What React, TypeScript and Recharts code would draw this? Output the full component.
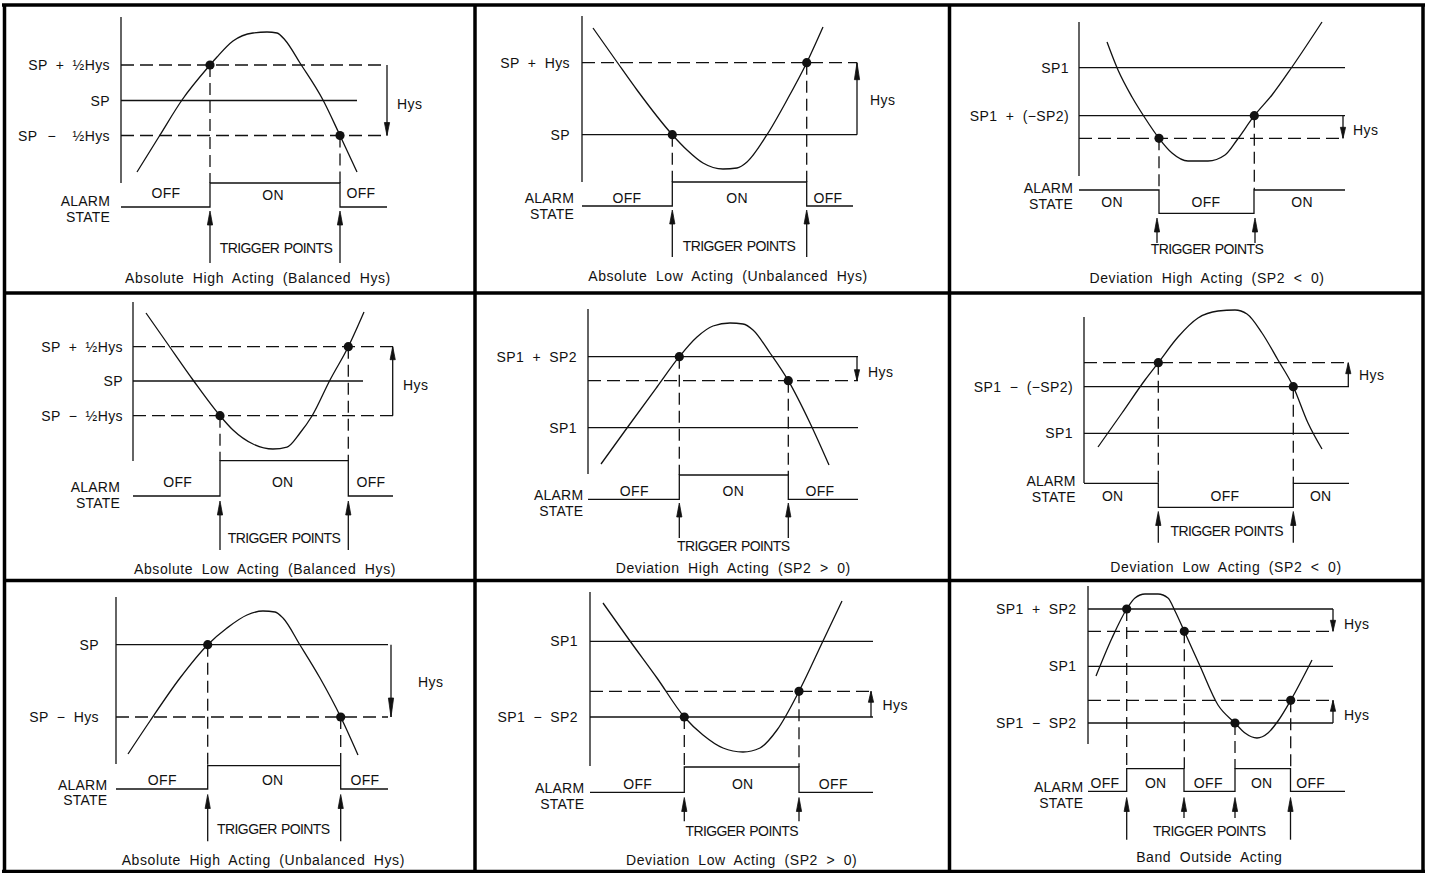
import { ComposedChart, XAxis, YAxis, Line, Scatter, ReferenceLine } from "recharts"

// chart units: x = time, y = process level (axis reversed, grid of the drawing sheet)
const W = 1429
const H = 873
const FONT = "'Liberation Sans', Arial, sans-serif"

// sheet frame and panel dividers
const frameLines = [
  { x1: 2, y1: 5, x2: 1425, y2: 5 },
  { x1: 2, y1: 871.5, x2: 1425, y2: 871.5 },
  { x1: 4.5, y1: 5, x2: 4.5, y2: 871.5 },
  { x1: 1423, y1: 5, x2: 1423, y2: 871.5 },
  { x1: 475, y1: 5, x2: 475, y2: 871.5 },
  { x1: 949.5, y1: 5, x2: 949.5, y2: 871.5 },
  { x1: 4, y1: 293, x2: 1423, y2: 293 },
  { x1: 4, y1: 580.5, x2: 1423, y2: 580.5 },
]

// vertical value axis of each panel
const axisLines = [
  { x: 121, y1: 17, y2: 183 },
  { x: 582, y1: 16, y2: 182 },
  { x: 1079, y1: 22, y2: 176 },
  { x: 133, y1: 302, y2: 461 },
  { x: 588, y1: 309, y2: 474 },
  { x: 1084, y1: 317, y2: 483 },
  { x: 116, y1: 597, y2: 764 },
  { x: 590, y1: 592, y2: 766 },
  { x: 1088, y1: 586, y2: 744 },
]

// setpoint levels (solid) and hysteresis levels (dashed)
const levelLines = [
  { x1: 121, x2: 387, y: 65, dashed: true },
  { x1: 121, x2: 357, y: 100.5, dashed: false },
  { x1: 121, x2: 387, y: 135.5, dashed: true },
  { x1: 582, x2: 857, y: 62.7, dashed: true },
  { x1: 582, x2: 857, y: 134.7, dashed: false },
  { x1: 1079, x2: 1345, y: 67.7, dashed: false },
  { x1: 1079, x2: 1345, y: 115.7, dashed: false },
  { x1: 1079, x2: 1345, y: 138.3, dashed: true },
  { x1: 133, x2: 393, y: 346.7, dashed: true },
  { x1: 133, x2: 363, y: 381, dashed: false },
  { x1: 133, x2: 393, y: 415.7, dashed: true },
  { x1: 588, x2: 858, y: 356.7, dashed: false },
  { x1: 588, x2: 858, y: 380.7, dashed: true },
  { x1: 588, x2: 858, y: 427.7, dashed: false },
  { x1: 1084, x2: 1349, y: 362.7, dashed: true },
  { x1: 1084, x2: 1349, y: 386.7, dashed: false },
  { x1: 1084, x2: 1349, y: 433.3, dashed: false },
  { x1: 116, x2: 388, y: 644.7, dashed: false },
  { x1: 116, x2: 388, y: 717, dashed: true },
  { x1: 590, x2: 873, y: 641.3, dashed: false },
  { x1: 590, x2: 873, y: 691.3, dashed: true },
  { x1: 590, x2: 873, y: 717, dashed: false },
  { x1: 1088, x2: 1333, y: 609, dashed: false },
  { x1: 1088, x2: 1333, y: 631.3, dashed: true },
  { x1: 1088, x2: 1333, y: 666.3, dashed: false },
  { x1: 1088, x2: 1333, y: 700.3, dashed: true },
  { x1: 1088, x2: 1333, y: 723, dashed: false },
]

// process value curves
const curveAbsHighBal = [
  { x: 137, y: 172 }, { x: 160, y: 135 }, { x: 182, y: 100 }, { x: 210, y: 65 }, { x: 217, y: 57 },
  { x: 233, y: 41 }, { x: 253, y: 33 }, { x: 267, y: 32 }, { x: 277, y: 33 }, { x: 285, y: 40 },
  { x: 300, y: 63 }, { x: 323, y: 100 }, { x: 340, y: 135.5 }, { x: 357, y: 172 },
]
const curveAbsLowUnbal = [
  { x: 593, y: 28 }, { x: 617, y: 62 }, { x: 637, y: 90 }, { x: 672.3, y: 134.7 }, { x: 687, y: 150 },
  { x: 703, y: 163 }, { x: 723, y: 169 }, { x: 737, y: 168 }, { x: 747, y: 162 }, { x: 767, y: 134.7 },
  { x: 787, y: 100 }, { x: 806.7, y: 62.7 }, { x: 823, y: 27 },
]
const curveDevHighNeg = [
  { x: 1107, y: 42 }, { x: 1118, y: 70 }, { x: 1132, y: 97 }, { x: 1145, y: 118 }, { x: 1159, y: 138.3 },
  { x: 1172, y: 153 }, { x: 1188, y: 161 }, { x: 1208, y: 161 }, { x: 1225, y: 155 }, { x: 1237, y: 140 },
  { x: 1254.3, y: 115.7 }, { x: 1272, y: 95 }, { x: 1292, y: 67 }, { x: 1322, y: 22 },
]
const curveAbsLowBal = [
  { x: 146, y: 313 }, { x: 167, y: 343 }, { x: 193, y: 380 }, { x: 220, y: 415.7 }, { x: 233, y: 430 },
  { x: 253, y: 444 }, { x: 273, y: 449 }, { x: 287, y: 447 }, { x: 300, y: 433 }, { x: 312, y: 416 },
  { x: 330, y: 380 }, { x: 348.3, y: 346.7 }, { x: 364, y: 312 },
]
const curveDevHighPos = [
  { x: 601, y: 464 }, { x: 627, y: 428 }, { x: 657, y: 387 }, { x: 679.3, y: 356.7 }, { x: 697, y: 337 },
  { x: 713, y: 326 }, { x: 730, y: 323 }, { x: 743, y: 324 }, { x: 753, y: 330 }, { x: 770, y: 353 },
  { x: 788.3, y: 380.7 }, { x: 810, y: 423 }, { x: 829, y: 465 },
]
const curveDevLowNeg = [
  { x: 1098, y: 447 }, { x: 1122, y: 413 }, { x: 1145, y: 380 }, { x: 1158.3, y: 362.7 }, { x: 1178, y: 337 },
  { x: 1198, y: 318 }, { x: 1218, y: 311 }, { x: 1235, y: 310 }, { x: 1247, y: 314 }, { x: 1262, y: 333 },
  { x: 1278, y: 360 }, { x: 1293.3, y: 386.7 }, { x: 1308, y: 423 }, { x: 1322, y: 449 },
]
const curveAbsHighUnbal = [
  { x: 128, y: 754 }, { x: 150, y: 721 }, { x: 180, y: 678 }, { x: 207.7, y: 644.7 }, { x: 227, y: 628 },
  { x: 247, y: 615 }, { x: 263, y: 611 }, { x: 275, y: 612 }, { x: 283, y: 618 }, { x: 300, y: 645 },
  { x: 320, y: 678 }, { x: 340.7, y: 717 }, { x: 358, y: 755 },
]
const curveDevLowPos = [
  { x: 603, y: 603 }, { x: 630, y: 641 }, { x: 657, y: 678 }, { x: 684.3, y: 717 }, { x: 703, y: 735 },
  { x: 723, y: 748 }, { x: 743, y: 752 }, { x: 760, y: 748 }, { x: 777, y: 730 }, { x: 799, y: 691.3 },
  { x: 823, y: 641 }, { x: 842, y: 601 },
]
const curveBandOutside = [
  { x: 1096, y: 676 }, { x: 1112, y: 638 }, { x: 1126.7, y: 609 }, { x: 1135, y: 598 }, { x: 1145, y: 594 },
  { x: 1158, y: 594 }, { x: 1168, y: 598 }, { x: 1175, y: 611 }, { x: 1184.3, y: 631.3 }, { x: 1200, y: 666 },
  { x: 1218, y: 705 }, { x: 1235, y: 723 }, { x: 1245, y: 733 }, { x: 1257, y: 738 }, { x: 1268, y: 733 },
  { x: 1278, y: 721 }, { x: 1290.7, y: 700.3 }, { x: 1312, y: 660 },
]
const curves = [
  curveAbsHighBal, curveAbsLowUnbal, curveDevHighNeg, curveAbsLowBal, curveDevHighPos,
  curveDevLowNeg, curveAbsHighUnbal, curveDevLowPos, curveBandOutside,
]

// alarm output state traces
const alarmAbsHighBal = [
  { x: 121, y: 207 }, { x: 210, y: 207 }, { x: 210, y: 183 }, { x: 340, y: 183 }, { x: 340, y: 207 }, { x: 387, y: 207 },
]
const alarmAbsLowUnbal = [
  { x: 582, y: 206 }, { x: 672.3, y: 206 }, { x: 672.3, y: 182 }, { x: 806.7, y: 182 }, { x: 806.7, y: 206 }, { x: 853, y: 206 },
]
const alarmDevHighNeg = [
  { x: 1079, y: 190 }, { x: 1159, y: 190 }, { x: 1159, y: 213.3 }, { x: 1254, y: 213.3 }, { x: 1254, y: 190 }, { x: 1345, y: 190 },
]
const alarmAbsLowBal = [
  { x: 133, y: 496 }, { x: 220, y: 496 }, { x: 220, y: 460.7 }, { x: 348.3, y: 460.7 }, { x: 348.3, y: 496 }, { x: 393, y: 496 },
]
const alarmDevHighPos = [
  { x: 588, y: 499.3 }, { x: 679.3, y: 499.3 }, { x: 679.3, y: 475 }, { x: 788.3, y: 475 }, { x: 788.3, y: 499.3 }, { x: 858, y: 499.3 },
]
const alarmDevLowNeg = [
  { x: 1084, y: 483.3 }, { x: 1158.3, y: 483.3 }, { x: 1158.3, y: 507.3 }, { x: 1293.3, y: 507.3 }, { x: 1293.3, y: 483.3 }, { x: 1349, y: 483.3 },
]
const alarmAbsHighUnbal = [
  { x: 116, y: 789 }, { x: 207.7, y: 789 }, { x: 207.7, y: 765.7 }, { x: 340.7, y: 765.7 }, { x: 340.7, y: 789 }, { x: 388, y: 789 },
]
const alarmDevLowPos = [
  { x: 590, y: 792.3 }, { x: 684.3, y: 792.3 }, { x: 684.3, y: 767 }, { x: 799, y: 767 }, { x: 799, y: 792.3 }, { x: 873, y: 792.3 },
]
const alarmBandOutside = [
  { x: 1088, y: 791.3 }, { x: 1126.7, y: 791.3 }, { x: 1126.7, y: 768.7 }, { x: 1184, y: 768.7 }, { x: 1184, y: 791.3 },
  { x: 1235, y: 791.3 }, { x: 1235, y: 768.7 }, { x: 1290.5, y: 768.7 }, { x: 1290.5, y: 791.3 }, { x: 1345, y: 791.3 },
]
const alarmSteps = [
  alarmAbsHighBal, alarmAbsLowUnbal, alarmDevHighNeg, alarmAbsLowBal, alarmDevHighPos,
  alarmDevLowNeg, alarmAbsHighUnbal, alarmDevLowPos, alarmBandOutside,
]

// trigger points: where the curve crosses a switching level, dropped to the alarm trace
const dropLines = [
  { x: 210, y1: 65, y2: 183 }, { x: 340, y1: 135.5, y2: 183 },
  { x: 672.3, y1: 134.7, y2: 182 }, { x: 806.7, y1: 62.7, y2: 182 },
  { x: 1159, y1: 138.3, y2: 190 }, { x: 1254.3, y1: 115.7, y2: 190 },
  { x: 220, y1: 415.7, y2: 460.7 }, { x: 348.3, y1: 346.7, y2: 460.7 },
  { x: 679.3, y1: 356.7, y2: 475 }, { x: 788.3, y1: 380.7, y2: 475 },
  { x: 1158.3, y1: 362.7, y2: 483.3 }, { x: 1293.3, y1: 386.7, y2: 483.3 },
  { x: 207.7, y1: 644.7, y2: 765.7 }, { x: 340.7, y1: 717, y2: 765.7 },
  { x: 684.3, y1: 717, y2: 767 }, { x: 799, y1: 691.3, y2: 767 },
  { x: 1126.7, y1: 609, y2: 768.7 }, { x: 1184.3, y1: 631.3, y2: 768.7 },
  { x: 1235, y1: 723, y2: 768.7 }, { x: 1290.7, y1: 700.3, y2: 768.7 },
]

// arrows pointing up at the trigger transitions
const triggerArrows = [
  { x: 210, tip: 211, tail: 263 }, { x: 340, tip: 211, tail: 263 },
  { x: 672.3, tip: 210, tail: 257 }, { x: 806.7, tip: 210, tail: 257 },
  { x: 1157, tip: 218, tail: 243 }, { x: 1255, tip: 218, tail: 243 },
  { x: 220, tip: 501, tail: 550 }, { x: 348.3, tip: 501, tail: 550 },
  { x: 679.3, tip: 503, tail: 538 }, { x: 788.3, tip: 503, tail: 538 },
  { x: 1158.3, tip: 511.5, tail: 542.7 }, { x: 1293.3, tip: 511.5, tail: 542.7 },
  { x: 207.7, tip: 794.5, tail: 841.3 }, { x: 340.7, tip: 794.5, tail: 841.3 },
  { x: 684.3, tip: 797.5, tail: 821.3 }, { x: 799, tip: 797.5, tail: 821.3 },
  { x: 1126.7, tip: 797.5, tail: 839.7 }, { x: 1184, tip: 797.5, tail: 818 },
  { x: 1235, tip: 797.5, tail: 818 }, { x: 1290.5, tip: 797.5, tail: 839.7 },
]

// hysteresis span arrows
const hysArrows = [
  { x: 387, from: 65, to: 135.5, head: 13 },
  { x: 857, from: 134.7, to: 62.7, head: 17 },
  { x: 1343, from: 115.7, to: 138.3, head: 11 },
  { x: 392.7, from: 415.7, to: 346.7, head: 13 },
  { x: 857, from: 356.7, to: 380.7, head: 11 },
  { x: 1348.3, from: 386.7, to: 362.7, head: 11 },
  { x: 391, from: 644.7, to: 717, head: 19 },
  { x: 871, from: 717, to: 691.3, head: 11 },
  { x: 1333, from: 609, to: 631.3, head: 11 },
  { x: 1333, from: 723, to: 700.3, head: 11 },
]

// level names on the value axis
const levelLabels = [
  { x: 110, y: 65, text: "SP + ½Hys" }, { x: 110, y: 100.5, text: "SP" },
  { x: 110, y: 135.5, text: "−  ½Hys" }, { x: 18, y: 135.5, text: "SP", anchor: "start" },
  { x: 570, y: 62.7, text: "SP + Hys" }, { x: 570, y: 134.7, text: "SP" },
  { x: 1069, y: 67.7, text: "SP1" }, { x: 1069, y: 115.7, text: "SP1 + (−SP2)" },
  { x: 123, y: 346.7, text: "SP + ½Hys" }, { x: 123, y: 381, text: "SP" }, { x: 123, y: 415.7, text: "SP − ½Hys" },
  { x: 577, y: 356.7, text: "SP1 + SP2" }, { x: 577, y: 427.7, text: "SP1" },
  { x: 1073, y: 386.7, text: "SP1 − (−SP2)" }, { x: 1073, y: 433.3, text: "SP1" },
  { x: 99, y: 644.7, text: "SP" }, { x: 99, y: 717, text: "SP − Hys" },
  { x: 578, y: 641.3, text: "SP1" }, { x: 578, y: 717, text: "SP1 − SP2" },
  { x: 1076.5, y: 609, text: "SP1 + SP2" }, { x: 1076.5, y: 666.3, text: "SP1" }, { x: 1076.5, y: 723, text: "SP1 − SP2" },
]

const hysLabels = [
  { x: 397, y: 104 }, { x: 870, y: 100 }, { x: 1353, y: 130 }, { x: 403, y: 385 }, { x: 868, y: 372.3 },
  { x: 1359, y: 375 }, { x: 418, y: 682.3 }, { x: 882.5, y: 704.7 }, { x: 1344, y: 624 }, { x: 1344, y: 715.3 },
]

const alarmLabels = [
  { x: 110, y: 201 }, { x: 574, y: 198 }, { x: 1073, y: 188 }, { x: 120, y: 487.3 }, { x: 583.3, y: 495 },
  { x: 1075.7, y: 481 }, { x: 107.3, y: 784.7 }, { x: 584.3, y: 788 }, { x: 1083.3, y: 787.3 },
]

const stateLabels = [
  { x: 166, y: 193, text: "OFF" }, { x: 273, y: 195, text: "ON" }, { x: 361, y: 193, text: "OFF" },
  { x: 627, y: 198, text: "OFF" }, { x: 737, y: 198, text: "ON" }, { x: 828, y: 198, text: "OFF" },
  { x: 1112, y: 202, text: "ON" }, { x: 1206, y: 202, text: "OFF" }, { x: 1302, y: 202, text: "ON" },
  { x: 177.7, y: 481.7, text: "OFF" }, { x: 282.7, y: 481.7, text: "ON" }, { x: 371, y: 481.7, text: "OFF" },
  { x: 634.3, y: 491, text: "OFF" }, { x: 733.3, y: 491, text: "ON" }, { x: 820, y: 491, text: "OFF" },
  { x: 1112.7, y: 496, text: "ON" }, { x: 1225, y: 496, text: "OFF" }, { x: 1320.7, y: 496, text: "ON" },
  { x: 162.3, y: 780.3, text: "OFF" }, { x: 272.7, y: 780.3, text: "ON" }, { x: 365, y: 780.3, text: "OFF" },
  { x: 637.7, y: 784, text: "OFF" }, { x: 742.7, y: 784, text: "ON" }, { x: 833.3, y: 784, text: "OFF" },
  { x: 1105, y: 783, text: "OFF" }, { x: 1155.7, y: 783, text: "ON" }, { x: 1208.3, y: 783, text: "OFF" },
  { x: 1261.7, y: 783, text: "ON" }, { x: 1310.7, y: 783, text: "OFF" },
]

const triggerLabels = [
  { x: 276, y: 248 }, { x: 739, y: 245.6 }, { x: 1207, y: 249.3 }, { x: 284, y: 538.3 }, { x: 733.3, y: 546 },
  { x: 1226.7, y: 530.7 }, { x: 273.3, y: 828.7 }, { x: 741.7, y: 831.3 }, { x: 1209.3, y: 830.7 },
]

const captions = [
  { x: 258, y: 278, text: "Absolute High Acting (Balanced Hys)" },
  { x: 728, y: 276, text: "Absolute Low Acting (Unbalanced Hys)" },
  { x: 1207, y: 278.3, text: "Deviation High Acting (SP2 < 0)" },
  { x: 265, y: 569.3, text: "Absolute Low Acting (Balanced Hys)" },
  { x: 733.3, y: 568.3, text: "Deviation High Acting (SP2 > 0)" },
  { x: 1226, y: 566.7, text: "Deviation Low Acting (SP2 < 0)" },
  { x: 263.3, y: 859.7, text: "Absolute High Acting (Unbalanced Hys)" },
  { x: 741.7, y: 859.7, text: "Deviation Low Acting (SP2 > 0)" },
  { x: 1209.3, y: 857.3, text: "Band Outside Acting" },
]

const INK = "#111"

function textShape(anchor: string, spacing: number, words: number) {
  return (p: any) => {
    const d = p.payload
    return (
      <text
        x={p.cx}
        y={p.cy}
        textAnchor={d.anchor ?? anchor}
        dominantBaseline="central"
        fontFamily={FONT}
        fontSize={14}
        fill={INK}
        letterSpacing={spacing}
        wordSpacing={words}
        style={{ whiteSpace: "pre" }}
      >
        {d.text}
      </text>
    )
  }
}

const ArrowHead = (p: any) => {
  const { dir, len } = p.payload
  const s = dir === "up" ? 1 : -1
  const pts = `${p.cx},${p.cy} ${p.cx - 2.6},${p.cy + s * len} ${p.cx + 2.6},${p.cy + s * len}`
  return <polygon points={pts} fill={INK} stroke={INK} strokeWidth={0.8} />
}

const TriggerDot = (p: any) => <circle cx={p.cx} cy={p.cy} r={4.6} fill={INK} />

export default function App() {
  const arrowHeads = [
    ...triggerArrows.map((a) => ({ x: a.x, y: a.tip, dir: "up", len: 14 })),
    ...hysArrows.map((a) => ({ x: a.x, y: a.to, dir: a.to < a.from ? "up" : "down", len: a.head })),
  ]
  const dots = dropLines.map((d) => ({ x: d.x, y: d.y1 }))
  const hysText = hysLabels.map((h) => ({ ...h, text: "Hys" }))
  const alarmText = alarmLabels.flatMap((a) => [
    { x: a.x, y: a.y, text: "ALARM" },
    { x: a.x, y: a.y + 15.5, text: "STATE" },
  ])
  const triggerText = triggerLabels.map((t) => ({ ...t, text: "TRIGGER POINTS" }))

  return (
    <div style={{ width: W, height: H, background: "#fff" }}>
      <style>{`body{margin:0;background:#fff}`}</style>
      <ComposedChart width={W} height={H} margin={{ top: 0, right: 0, bottom: 0, left: 0 }}>
        <XAxis type="number" dataKey="x" domain={[0, W]} hide allowDataOverflow />
        <YAxis type="number" domain={[0, H]} reversed hide allowDataOverflow />

        {frameLines.map((f, i) => (
          <ReferenceLine key={`f${i}`} segment={[{ x: f.x1, y: f.y1 }, { x: f.x2, y: f.y2 }]} stroke="#000" strokeWidth={3.5} ifOverflow="visible" />
        ))}
        {axisLines.map((a, i) => (
          <ReferenceLine key={`a${i}`} segment={[{ x: a.x, y: a.y1 }, { x: a.x, y: a.y2 }]} stroke={INK} strokeWidth={1.3} />
        ))}
        {levelLines.map((l, i) => (
          <ReferenceLine
            key={`l${i}`}
            segment={[{ x: l.x1, y: l.y }, { x: l.x2, y: l.y }]}
            stroke={INK}
            strokeWidth={1.3}
            strokeDasharray={l.dashed ? "13 6" : undefined}
          />
        ))}
        {dropLines.map((d, i) => (
          <ReferenceLine key={`d${i}`} segment={[{ x: d.x, y: d.y1 }, { x: d.x, y: d.y2 }]} stroke={INK} strokeWidth={1.3} strokeDasharray="12 6" />
        ))}
        {triggerArrows.map((a, i) => (
          <ReferenceLine key={`t${i}`} segment={[{ x: a.x, y: a.tip + 4 }, { x: a.x, y: a.tail }]} stroke={INK} strokeWidth={1.3} />
        ))}
        {hysArrows.map((a, i) => (
          <ReferenceLine key={`h${i}`} segment={[{ x: a.x, y: a.from }, { x: a.x, y: a.to }]} stroke={INK} strokeWidth={1.3} />
        ))}

        {curves.map((c, i) => (
          <Line key={`c${i}`} data={c} dataKey="y" type="monotone" stroke={INK} strokeWidth={1.3} dot={false} activeDot={false} isAnimationActive={false} />
        ))}
        {alarmSteps.map((s, i) => (
          <Line key={`s${i}`} data={s} dataKey="y" type="linear" stroke={INK} strokeWidth={1.3} dot={false} activeDot={false} isAnimationActive={false} />
        ))}

        <Scatter data={dots} dataKey="y" shape={TriggerDot} isAnimationActive={false} />
        <Scatter data={arrowHeads} dataKey="y" shape={ArrowHead} isAnimationActive={false} />
        <Scatter data={levelLabels} dataKey="y" shape={textShape("end", 0.4, 4)} isAnimationActive={false} />
        <Scatter data={hysText} dataKey="y" shape={textShape("start", 0.4, 0)} isAnimationActive={false} />
        <Scatter data={alarmText} dataKey="y" shape={textShape("end", 0.2, 0)} isAnimationActive={false} />
        <Scatter data={stateLabels} dataKey="y" shape={textShape("middle", 0.3, 0)} isAnimationActive={false} />
        <Scatter data={triggerText} dataKey="y" shape={textShape("middle", -0.6, 1)} isAnimationActive={false} />
        <Scatter data={captions} dataKey="y" shape={textShape("middle", 0.6, 4)} isAnimationActive={false} />
      </ComposedChart>
    </div>
  )
}
